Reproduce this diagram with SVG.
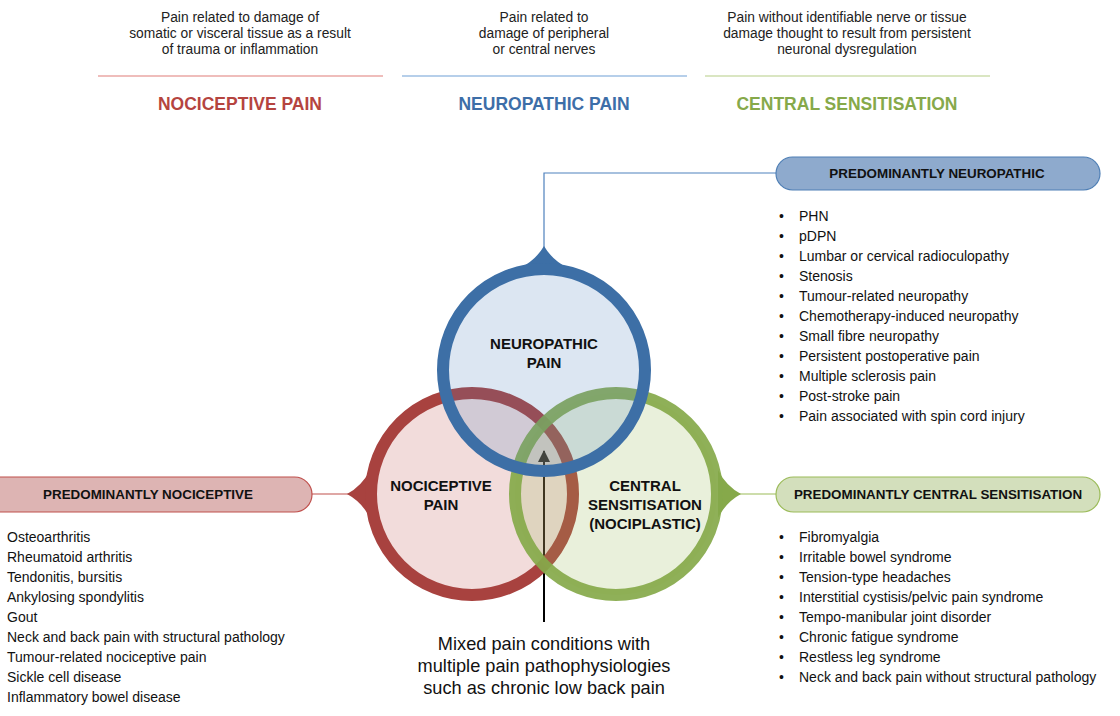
<svg xmlns="http://www.w3.org/2000/svg" width="1120" height="716" viewBox="0 0 1120 716">
<defs>
<style>
text{font-family:"Liberation Sans",Arial,sans-serif;fill:#111;}
.desc{font-size:13.8px;text-anchor:middle;fill:#222;}
.title{font-size:17.5px;font-weight:bold;text-anchor:middle;}
.box{font-size:13.4px;font-weight:bold;text-anchor:middle;}
.item{font-size:14px;}
.lbl{font-size:15px;font-weight:bold;text-anchor:middle;}
.mix{font-size:18.2px;text-anchor:middle;fill:#111;}
</style>
<marker id="arr" viewBox="0 0 12 12" refX="11" refY="6" markerWidth="12" markerHeight="12" markerUnits="userSpaceOnUse" orient="auto">
<path d="M0,0 L12,6 L0,12 Z" fill="#000"/>
</marker>
</defs>
<rect width="1120" height="716" fill="#fff"/>

<g id="header-nociceptive">
<text class="desc" x="240" y="22">Pain related to damage of</text>
<text class="desc" x="240" y="38">somatic or visceral tissue as a result</text>
<text class="desc" x="240" y="54">of trauma or inflammation</text>
<line x1="98" y1="76" x2="383" y2="76" stroke="#e07c78" stroke-width="1.2"/>
<text class="title" x="240" y="110" style="fill:#b5443f">NOCICEPTIVE PAIN</text>
</g>
<g id="header-neuropathic">
<text class="desc" x="544" y="22">Pain related to</text>
<text class="desc" x="544" y="38">damage of peripheral</text>
<text class="desc" x="544" y="54">or central nerves</text>
<line x1="402" y1="76" x2="687" y2="76" stroke="#6f9fd6" stroke-width="1.2"/>
<text class="title" x="544" y="110" style="fill:#3d6ea8">NEUROPATHIC PAIN</text>
</g>
<g id="header-central">
<text class="desc" x="847" y="22">Pain without identifiable nerve or tissue</text>
<text class="desc" x="847" y="38">damage thought to result from persistent</text>
<text class="desc" x="847" y="54">neuronal dysregulation</text>
<line x1="705" y1="76" x2="990" y2="76" stroke="#b5cd85" stroke-width="1.2"/>
<text class="title" x="847" y="110" style="fill:#86a94a">CENTRAL SENSITISATION</text>
</g>

<g id="connectors" fill="none" stroke-width="1.2">
<path d="M544,250 L544,173 L776,173" stroke="#4f81bd"/>
<line x1="312" y1="494" x2="350" y2="494" stroke="#c0504d"/>
<line x1="738" y1="494" x2="776" y2="494" stroke="#9bbb59"/>
<line x1="544" y1="622" x2="544" y2="451" stroke="#000" stroke-width="2" marker-end="url(#arr)"/>
</g>

<g id="circle-nociceptive">
<path d="M347,494 Q362,486 370,470 L370,518 Q362,502 347,494 Z" fill="#a8423f"/>
<circle cx="472" cy="494" r="101" fill="#c0504d" fill-opacity="0.2" stroke="#a8423f" stroke-width="12"/>
</g>
<g id="circle-central">
<path d="M741,494 Q726,486 718,470 L718,518 Q726,502 741,494 Z" fill="#86a94a"/>
<circle cx="616" cy="494" r="101" fill="#9bbb59" fill-opacity="0.22" stroke="#86a94a" stroke-width="12" stroke-opacity="0.92"/>
</g>
<g id="circle-neuropathic">
<path d="M544,246 Q552,260 568,268 L520,268 Q536,260 544,246 Z" fill="#3d6fa6"/>
<circle cx="544" cy="370" r="101" fill="#4f81bd" fill-opacity="0.2" stroke="#3d6fa6" stroke-width="12"/>
</g>

<g id="circle-labels">
<text class="lbl" x="544" y="349">NEUROPATHIC</text>
<text class="lbl" x="544" y="368">PAIN</text>
<text class="lbl" x="441" y="491">NOCICEPTIVE</text>
<text class="lbl" x="441" y="510">PAIN</text>
<text class="lbl" x="645" y="491">CENTRAL</text>
<text class="lbl" x="645" y="510">SENSITISATION</text>
<text class="lbl" x="645" y="529">(NOCIPLASTIC)</text>
</g>

<g id="box-neuropathic">
<rect x="776" y="157" width="324" height="33" rx="16.5" fill="#8eaacd" stroke="#4f7fb5" stroke-width="1.2"/>
<text class="box" x="937" y="178">PREDOMINANTLY NEUROPATHIC</text>
</g>
<g id="list-neuropathic">
<text x="779" y="221" class="item">•</text><text x="799" y="221" class="item">PHN</text>
<text x="779" y="241" class="item">•</text><text x="799" y="241" class="item">pDPN</text>
<text x="779" y="261" class="item">•</text><text x="799" y="261" class="item">Lumbar or cervical radioculopathy</text>
<text x="779" y="281" class="item">•</text><text x="799" y="281" class="item">Stenosis</text>
<text x="779" y="301" class="item">•</text><text x="799" y="301" class="item">Tumour-related neuropathy</text>
<text x="779" y="321" class="item">•</text><text x="799" y="321" class="item">Chemotherapy-induced neuropathy</text>
<text x="779" y="341" class="item">•</text><text x="799" y="341" class="item">Small fibre neuropathy</text>
<text x="779" y="361" class="item">•</text><text x="799" y="361" class="item">Persistent postoperative pain</text>
<text x="779" y="381" class="item">•</text><text x="799" y="381" class="item">Multiple sclerosis pain</text>
<text x="779" y="401" class="item">•</text><text x="799" y="401" class="item">Post-stroke pain</text>
<text x="779" y="421" class="item">•</text><text x="799" y="421" class="item">Pain associated with spin cord injury</text>
</g>

<g id="box-nociceptive">
<rect x="-20" y="477" width="332" height="35" rx="17.5" fill="#ddb4b3" stroke="#c0504d" stroke-width="1.2"/>
<text class="box" x="148" y="499">PREDOMINANTLY NOCICEPTIVE</text>
</g>
<g id="list-nociceptive">
<text x="7" y="542" class="item">Osteoarthritis</text>
<text x="7" y="562" class="item">Rheumatoid arthritis</text>
<text x="7" y="582" class="item">Tendonitis, bursitis</text>
<text x="7" y="602" class="item">Ankylosing spondylitis</text>
<text x="7" y="622" class="item">Gout</text>
<text x="7" y="642" class="item">Neck and back pain with structural pathology</text>
<text x="7" y="662" class="item">Tumour-related nociceptive pain</text>
<text x="7" y="682" class="item">Sickle cell disease</text>
<text x="7" y="702" class="item">Inflammatory bowel disease</text>
</g>

<g id="box-central">
<rect x="776" y="477" width="324" height="35" rx="17.5" fill="#d3dfbc" stroke="#9bbb59" stroke-width="1.2"/>
<text class="box" x="938" y="499">PREDOMINANTLY CENTRAL SENSITISATION</text>
</g>
<g id="list-central">
<text x="779" y="542" class="item">•</text><text x="799" y="542" class="item">Fibromyalgia</text>
<text x="779" y="562" class="item">•</text><text x="799" y="562" class="item">Irritable bowel syndrome</text>
<text x="779" y="582" class="item">•</text><text x="799" y="582" class="item">Tension-type headaches</text>
<text x="779" y="602" class="item">•</text><text x="799" y="602" class="item">Interstitial cystisis/pelvic pain syndrome</text>
<text x="779" y="622" class="item">•</text><text x="799" y="622" class="item">Tempo-manibular joint disorder</text>
<text x="779" y="642" class="item">•</text><text x="799" y="642" class="item">Chronic fatigue syndrome</text>
<text x="779" y="662" class="item">•</text><text x="799" y="662" class="item">Restless leg syndrome</text>
<text x="779" y="682" class="item">•</text><text x="799" y="682" class="item">Neck and back pain without structural pathology</text>
</g>

<g id="mixed-label">
<text class="mix" x="544" y="650">Mixed pain conditions with</text>
<text class="mix" x="544" y="672">multiple pain pathophysiologies</text>
<text class="mix" x="544" y="694">such as chronic low back pain</text>
</g>
</svg>
